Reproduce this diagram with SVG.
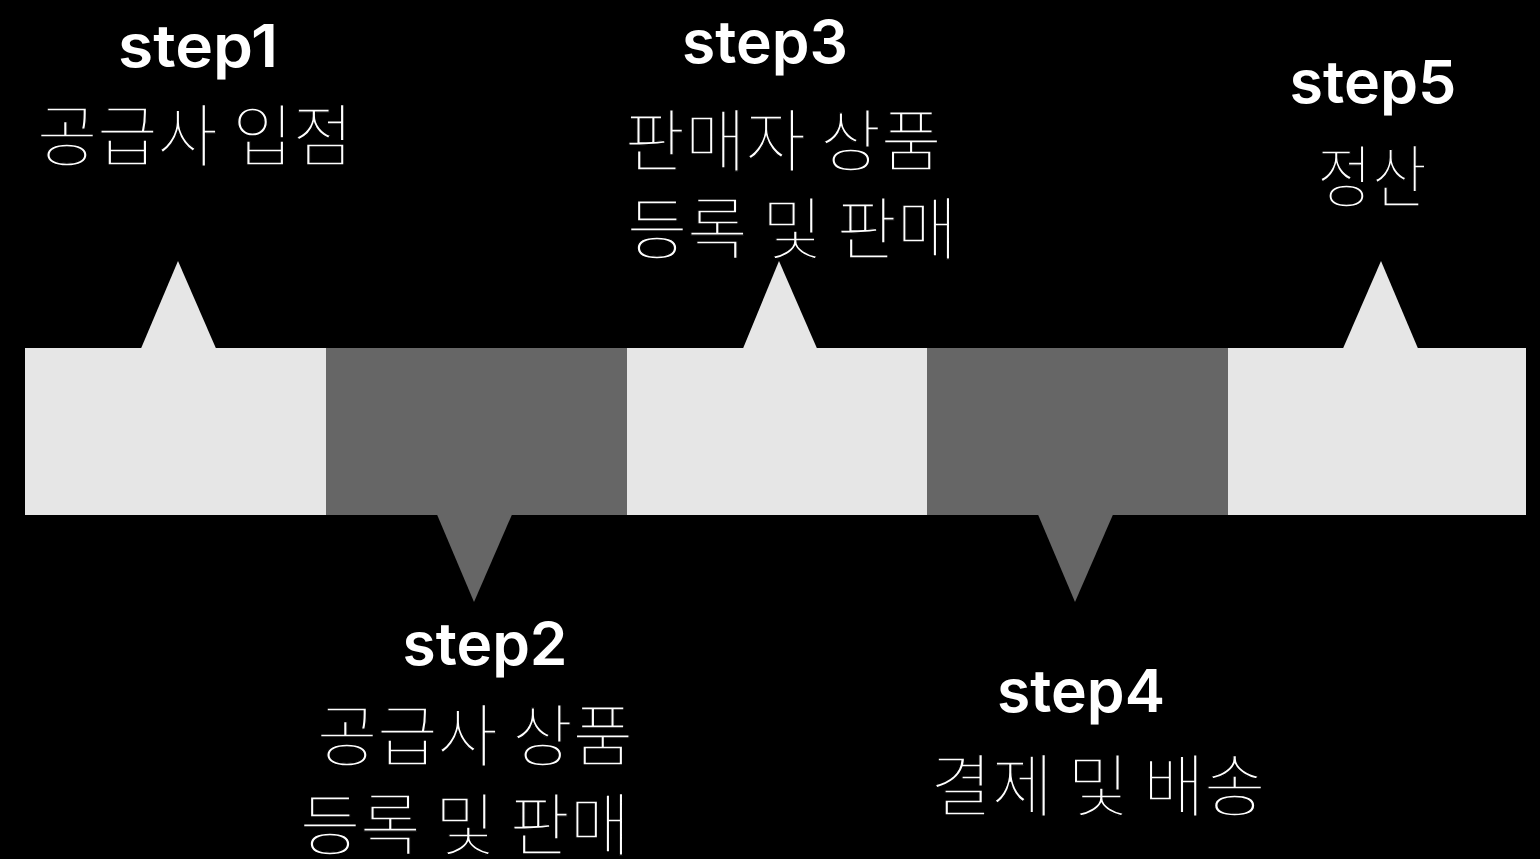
<svg xmlns="http://www.w3.org/2000/svg" width="1540" height="859" viewBox="0 0 1540 859">
<style>
.light{fill:#e6e6e6}
.dark{fill:#666666}
.step{font-family:Inter,"Liberation Sans",sans-serif;font-weight:600;font-size:59px;fill:#ffffff;text-anchor:middle}
.ko{font-family:"Noto Sans CJK KR","Noto Sans",sans-serif;font-weight:300;font-size:68px;fill:#ffffff;stroke:#000000;stroke-width:1.4px;paint-order:fill;text-anchor:middle}
</style>
<rect x="0" y="0" width="1540" height="859" fill="#000000"/>
<g id="step1">
<rect class="light" x="25" y="348" width="301" height="167"/>
<polygon class="light" points="141,348.5 178,261 216,348.5"/>
<text class="step" x="198" y="67" textLength="160" lengthAdjust="spacingAndGlyphs">step1</text>
<text class="ko" x="195" y="161" textLength="316" lengthAdjust="spacingAndGlyphs">공급사 입점</text>
</g>
<g id="step2">
<rect class="dark" x="326" y="348" width="301" height="167"/>
<polygon class="dark" points="437,514.5 512,514.5 474,602"/>
<text class="step" x="485" y="665" textLength="165" lengthAdjust="spacingAndGlyphs">step2</text>
<text class="ko" x="475" y="761" textLength="316" lengthAdjust="spacingAndGlyphs">공급사 상품</text>
<text class="ko" x="465" y="850" textLength="330" lengthAdjust="spacingAndGlyphs">등록 및 판매</text>
</g>
<g id="step3">
<rect class="light" x="627" y="348" width="300" height="167"/>
<polygon class="light" points="743,348.5 779,261 817,348.5"/>
<text class="step" x="765" y="63" textLength="166" lengthAdjust="spacingAndGlyphs">step3</text>
<text class="ko" x="783" y="166" textLength="317" lengthAdjust="spacingAndGlyphs">판매자 상품</text>
<text class="ko" x="792" y="254" textLength="330" lengthAdjust="spacingAndGlyphs">등록 및 판매</text>
</g>
<g id="step4">
<rect class="dark" x="927" y="348" width="301" height="167"/>
<polygon class="dark" points="1038,514.5 1113,514.5 1075,602"/>
<text class="step" x="1081" y="712" textLength="168" lengthAdjust="spacingAndGlyphs">step4</text>
<text class="ko" x="1098" y="811" textLength="335" lengthAdjust="spacingAndGlyphs">결제 및 배송</text>
</g>
<g id="step5">
<rect class="light" x="1228" y="348" width="298" height="167"/>
<polygon class="light" points="1343,348.5 1381,261 1418,348.5"/>
<text class="step" x="1373" y="103" textLength="167" lengthAdjust="spacingAndGlyphs">step5</text>
<text class="ko" x="1372" y="202" textLength="110" lengthAdjust="spacingAndGlyphs">정산</text>
</g>
<g id="connectors"/>
</svg>
